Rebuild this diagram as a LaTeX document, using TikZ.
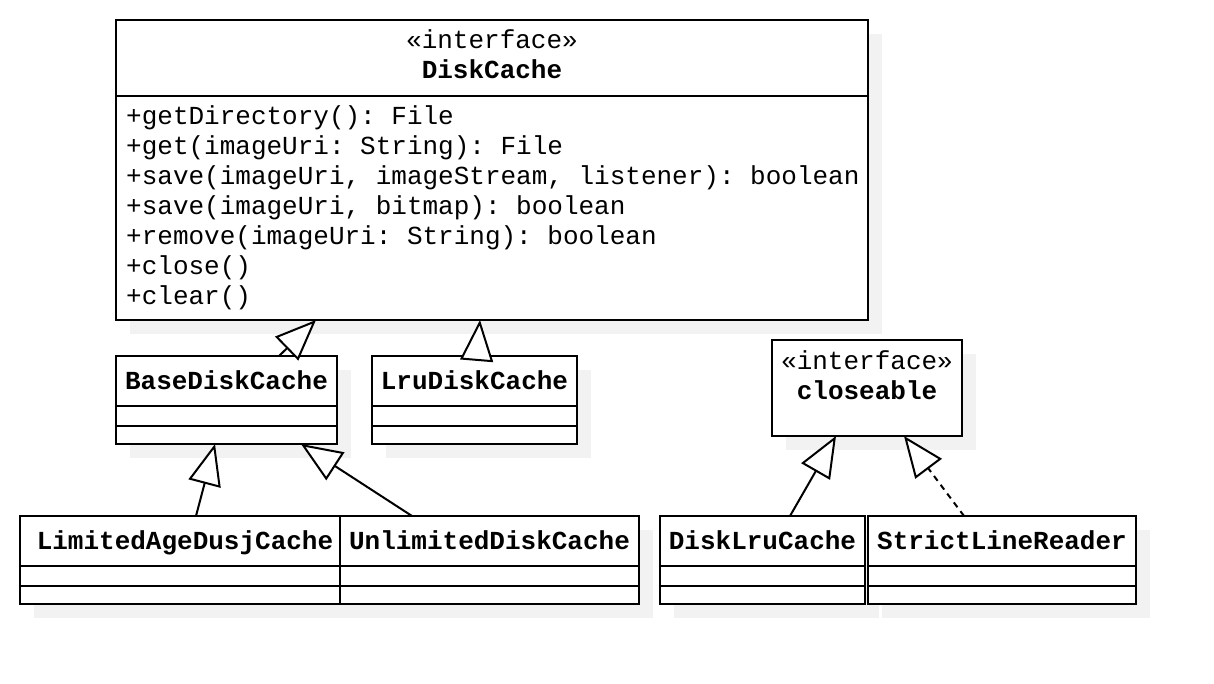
\documentclass[tikz,border=0pt]{standalone}
\usepackage{fontspec}
\newfontfamily\umlfont{Liberation Mono}
\usetikzlibrary{arrows.meta,shadows}
\definecolor{shadowgray}{RGB}{242,242,242}
\begin{document}
\begin{tikzpicture}[x=1pt,y=-1pt,
  every node/.style={font=\umlfont\fontsize{26}{30}\selectfont\frenchspacing},
  classbox/.style={draw=black, fill=white, line width=2pt, rectangle, anchor=north west,
    inner sep=0pt, outer sep=0pt,
    general shadow={fill=shadowgray, shadow xshift=14pt, shadow yshift=-14pt}},
  divider/.style={line width=2pt},
  txt/.style={inner sep=0pt, anchor=base},
  meth/.style={inner sep=0pt, anchor=base west},
  gen/.style={line width=2pt, -{Triangle[fill=white, length=41pt, width=33pt]}},
  real/.style={gen, dash pattern=on 6pt off 5pt}
]
\useasboundingbox (0,0) rectangle (1214,684);

% DiskCache interface
\node[classbox, minimum width=752pt, minimum height=300pt] (dc) at (116,20) {};
\draw[divider] ([yshift=-76pt]dc.north west) -- ([yshift=-76pt]dc.north east);
\node[txt] (dcst) at (492,49) {«interface»};
\node[txt] (dcname) at (492,79) {\bfseries DiskCache};
\node[meth] (m1) at (126,125) {+getDirectory(): File};
\node[meth] (m2) at (126,155) {+get(imageUri: String): File};
\node[meth] (m3) at (126,185) {+save(imageUri, imageStream, listener): boolean};
\node[meth] (m4) at (126,215) {+save(imageUri, bitmap): boolean};
\node[meth] (m5) at (126,245) {+remove(imageUri: String): boolean};
\node[meth] (m6) at (126,275) {+close()};
\node[meth] (m7) at (126,305) {+clear()};

% BaseDiskCache
\node[classbox, minimum width=221pt, minimum height=88pt] (bdc) at (116,356) {};
\draw[divider] ([yshift=-50pt]bdc.north west) -- ([yshift=-50pt]bdc.north east);
\draw[divider] ([yshift=-70pt]bdc.north west) -- ([yshift=-70pt]bdc.north east);
\node[txt] (bdcname) at (226.5,389) {\bfseries BaseDiskCache};

% LruDiskCache
\node[classbox, minimum width=205pt, minimum height=88pt] (ldc) at (372,356) {};
\draw[divider] ([yshift=-50pt]ldc.north west) -- ([yshift=-50pt]ldc.north east);
\draw[divider] ([yshift=-70pt]ldc.north west) -- ([yshift=-70pt]ldc.north east);
\node[txt] (ldcname) at (474.5,389) {\bfseries LruDiskCache};

% closeable interface
\node[classbox, minimum width=190pt, minimum height=96pt] (cl) at (772,340) {};
\node[txt] (clst) at (867,369) {«interface»};
\node[txt] (clname) at (867,399) {\bfseries closeable};

% LimitedAgeDusjCache
\node[classbox, minimum width=320pt, minimum height=88pt] (la) at (20,516) {};
\draw[divider] ([yshift=-50pt]la.north west) -- ([yshift=-50pt]la.north east);
\draw[divider] ([yshift=-70pt]la.north west) -- ([yshift=-70pt]la.north east);
\node[txt] (laname) at (185,549) {\bfseries LimitedAgeDusjCache};

% UnlimitedDiskCache
\node[classbox, minimum width=299pt, minimum height=88pt] (ul) at (340,516) {};
\draw[divider] ([yshift=-50pt]ul.north west) -- ([yshift=-50pt]ul.north east);
\draw[divider] ([yshift=-70pt]ul.north west) -- ([yshift=-70pt]ul.north east);
\node[txt] (ulname) at (489.5,549) {\bfseries UnlimitedDiskCache};

% DiskLruCache
\node[classbox, minimum width=205pt, minimum height=88pt] (dl) at (660,516) {};
\draw[divider] ([yshift=-50pt]dl.north west) -- ([yshift=-50pt]dl.north east);
\draw[divider] ([yshift=-70pt]dl.north west) -- ([yshift=-70pt]dl.north east);
\node[txt] (dlname) at (762.5,549) {\bfseries DiskLruCache};

% StrictLineReader
\node[classbox, minimum width=268pt, minimum height=88pt] (sl) at (868,516) {};
\draw[divider] ([yshift=-50pt]sl.north west) -- ([yshift=-50pt]sl.north east);
\draw[divider] ([yshift=-70pt]sl.north west) -- ([yshift=-70pt]sl.north east);
\node[txt] (slname) at (1002,549) {\bfseries StrictLineReader};

% generalizations
\draw[gen] ([xshift=163pt]bdc.north west) -- ([xshift=200pt]dc.south west);
\draw[gen] ([xshift=105pt]ldc.north west) -- ([xshift=364pt]dc.south west);
\draw[gen] ([xshift=176pt]la.north west) -- ([xshift=99pt]bdc.south west);
\draw[gen] ([xshift=72pt]ul.north west) -- ([xshift=185pt]bdc.south west);
\draw[gen] ([xshift=130pt]dl.north west) -- ([xshift=64pt]cl.south west);
\draw[real] ([xshift=96pt]sl.north west) -- ([xshift=132pt]cl.south west);
\end{tikzpicture}
\end{document}
